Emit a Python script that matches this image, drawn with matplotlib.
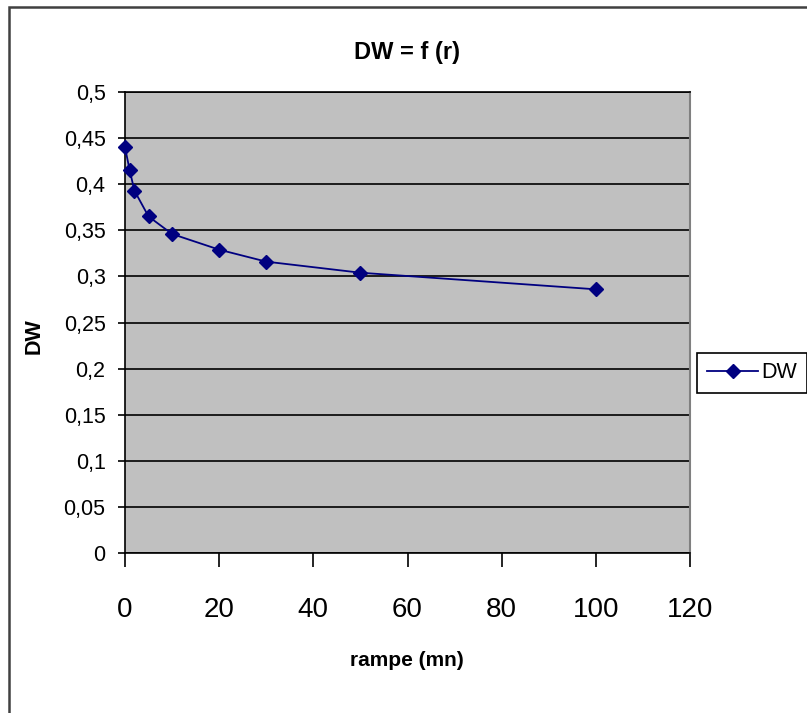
import matplotlib
matplotlib.use("Agg")
import matplotlib.pyplot as plt
from matplotlib.patches import Rectangle
from matplotlib.ticker import FuncFormatter

ramp = [0, 1, 2, 5, 10, 20, 30, 50, 100]
dw = [0.440, 0.415, 0.393, 0.365, 0.346, 0.329, 0.316, 0.304, 0.286]
x_ticks = [0, 20, 40, 60, 80, 100, 120]
y_ticks = [0, 0.05, 0.1, 0.15, 0.2, 0.25, 0.3, 0.35, 0.4, 0.45, 0.5]

plt.rcParams["font.family"] = ["Liberation Sans", "DejaVu Sans"]

W, H = 807, 713
fig = plt.figure(figsize=(W / 100, H / 100), dpi=100)
fig.patch.set_facecolor("white")

# outer chart-area border (extends beyond right and bottom)
fig.patches.append(Rectangle((9 / W, -0.1), 1.2, 1 - 7 / H + 0.1,
                             transform=fig.transFigure, fill=False,
                             edgecolor="#404040", linewidth=1.8, zorder=0))

ax = fig.add_axes([125 / W, 1 - 553 / H, (690 - 125) / W, (553 - 92) / H])
ax.set_facecolor("#C0C0C0")

ax.plot(ramp, dw, color="#000080", linewidth=1.3, marker="D",
        markersize=7.3, markerfacecolor="#000080", markeredgecolor="#000080",
        label="DW", zorder=3, clip_on=False)

ax.set_xlim(0, 120)
ax.set_ylim(0, 0.5)
ax.set_xticks(x_ticks)
ax.set_yticks(y_ticks)
ax.yaxis.set_major_formatter(FuncFormatter(lambda v, p: ("%g" % round(v, 2)).replace(".", ",")))
ax.grid(axis="y", color="black", linewidth=1.2, zorder=1)
ax.set_axisbelow(True)

ax.tick_params(axis="y", direction="out", length=5, width=1.2, labelsize=15.5, pad=9, colors="black")
ax.tick_params(axis="x", direction="out", length=10, width=1.2, labelsize=20, pad=22, colors="black")

for s in ["left", "bottom", "top"]:
    ax.spines[s].set_color("black")
    ax.spines[s].set_linewidth(1.2)
ax.spines["right"].set_color("#808080")
ax.spines["right"].set_linewidth(1.5)

fig.text(407 / W, 1 - 660 / H, "rampe (mn)", fontsize=15, fontweight="bold",
         ha="center", va="center")
fig.text(34 / W, 1 - 336 / H, "DW", fontsize=15.5, fontweight="bold",
         ha="center", va="center", rotation=90)
fig.text(407 / W, 1 - 52 / H, "DW = f (r)", fontsize=17, fontweight="bold",
         ha="center", va="center")

leg = ax.legend(loc="center left", bbox_to_anchor=(697 / W, 1 - 373 / H),
                bbox_transform=fig.transFigure, fontsize=15.5, frameon=True,
                fancybox=False, edgecolor="black", facecolor="white",
                handlelength=2.4, borderpad=0.45, handletextpad=0.15,
                borderaxespad=0)
leg.get_frame().set_linewidth(1.2)
leg.get_frame().set_alpha(1)
leg.set_zorder(10)

fig.savefig("out.png", dpi=100)
